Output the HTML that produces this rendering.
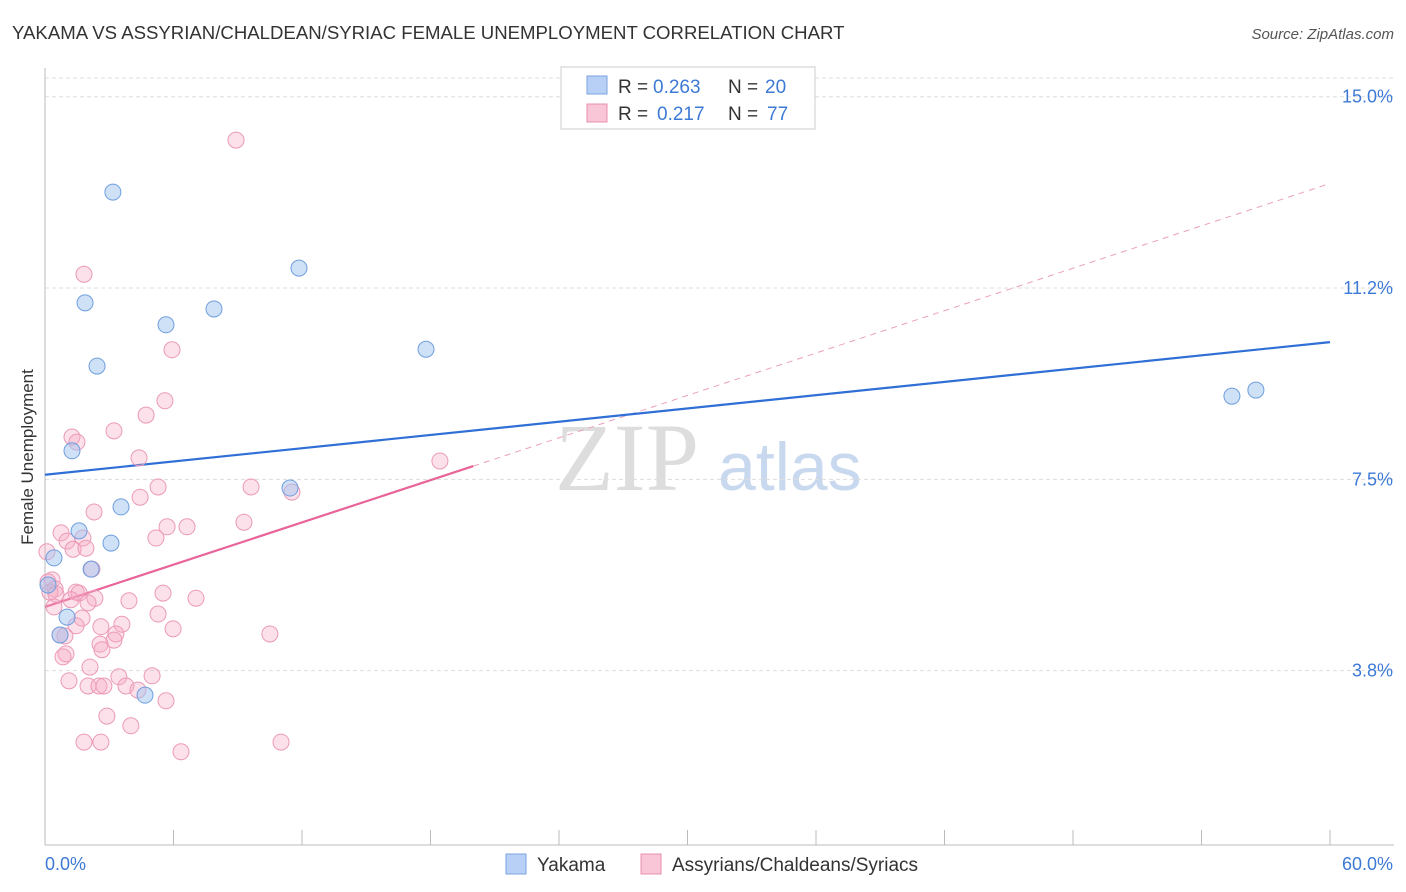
<!DOCTYPE html>
<html><head><meta charset="utf-8"><style>
body{margin:0;background:#fff;font-family:"Liberation Sans",sans-serif;}
svg{display:block}
</style></head><body>
<svg width="1406" height="892" id="chart">
<text x="12" y="39" font-size="18.6" fill="#333">YAKAMA VS ASSYRIAN/CHALDEAN/SYRIAC FEMALE UNEMPLOYMENT CORRELATION CHART</text>
<text x="1394" y="39" font-size="15" fill="#555" font-style="italic" text-anchor="end">Source: ZipAtlas.com</text>
<text x="33" y="457" font-size="17" fill="#333" text-anchor="middle" transform="rotate(-90 33 457)">Female Unemployment</text>
<text x="555" y="490" font-size="96" fill="#ddd" font-family="Liberation Serif">ZIP</text>
<text x="718" y="490" font-size="68" fill="#c8d8ef">atlas</text>
<g id="grid"></g><g id="axes"></g><g id="lines"></g><g id="pts"></g>
<g>
<rect x="561" y="67" width="254" height="62" fill="#fff" stroke="#ccc"/>
<rect x="587" y="76" width="20" height="18" fill="#b8d0f5" stroke="#7aa3e0"/>
<text x="618" y="93" font-size="19" fill="#333">R =</text>
<text x="653" y="93" font-size="19" fill="#3d7ad6">0.263</text>
<text x="728" y="93" font-size="19" fill="#333">N =</text>
<text x="765" y="93" font-size="19" fill="#3d7ad6">20</text>
<rect x="587" y="104" width="20" height="18" fill="#f8c6d6" stroke="#e890b0"/>
<text x="618" y="120" font-size="19" fill="#333">R =</text>
<text x="657" y="120" font-size="19" fill="#3d7ad6">0.217</text>
<text x="728" y="120" font-size="19" fill="#333">N =</text>
<text x="767" y="120" font-size="19" fill="#3d7ad6">77</text>
</g>
<g>
<rect x="506" y="854" width="20" height="20" fill="#b8d0f5" stroke="#7aa3e0"/>
<text x="537" y="871" font-size="19" fill="#333">Yakama</text>
<rect x="641" y="854" width="20" height="20" fill="#f8c6d6" stroke="#e890b0"/>
<text x="672" y="871" font-size="19" fill="#333">Assyrians/Chaldeans/Syriacs</text>
</g>
</svg>
<script>
const yTicks=[15.0,11.25,7.5,3.75];
const yTickLabels=["15.0%","11.2%","7.5%","3.8%"];
const xTickLabels=["0.0%","60.0%"];
const blueX=[3.17,1.87,2.43,5.65,7.89,11.86,17.79,1.26,3.55,1.59,3.08,0.42,2.15,1.03,0.70,4.67,11.44,55.42,56.54,0.14];
const blueY=[13.13,10.96,9.72,10.53,10.84,11.64,10.05,8.06,6.96,6.49,6.25,5.96,5.74,4.80,4.45,3.27,7.33,9.13,9.25,5.43];
const pinkX=[8.92,1.82,5.93,5.60,4.72,3.22,1.26,1.49,4.39,18.44,5.28,9.62,11.53,4.44,2.29,9.29,5.70,6.63,0.75,5.18,1.03,1.77,1.31,1.91,0.09,2.19,0.33,0.14,0.47,0.23,0.51,1.45,1.59,5.51,7.05,2.33,3.92,1.21,2.01,0.42,5.28,1.73,1.45,3.59,2.61,5.98,3.31,10.50,0.70,0.93,3.22,2.57,2.66,0.98,0.84,2.10,3.45,5.00,1.12,2.01,2.52,2.75,3.78,4.34,5.65,2.89,4.01,1.82,2.61,11.02,6.35];
const pinkY=[14.15,11.52,10.04,9.04,8.76,8.45,8.33,8.23,7.92,7.86,7.35,7.35,7.25,7.15,6.86,6.66,6.57,6.57,6.45,6.35,6.29,6.35,6.13,6.15,6.08,5.74,5.53,5.49,5.35,5.29,5.25,5.29,5.27,5.27,5.17,5.17,5.12,5.14,5.08,5.00,4.86,4.78,4.63,4.66,4.61,4.57,4.47,4.47,4.45,4.43,4.35,4.27,4.16,4.08,4.02,3.82,3.63,3.65,3.55,3.45,3.45,3.45,3.45,3.37,3.16,2.86,2.67,2.35,2.35,2.35,2.16];
const blueFit=[7.59,10.19];
const pinkFit=[5.0,7.76,13.3];
const NS="http://www.w3.org/2000/svg";
const X=v=>45+v*(1285/60), Y=v=>862-v*51.02;
function mk(t,a,p){const e=document.createElementNS(NS,t);for(const k in a)e.setAttribute(k,a[k]);p.appendChild(e);return e;}
const grid=document.getElementById('grid'),axes=document.getElementById('axes'),lines=document.getElementById('lines'),pts=document.getElementById('pts');
const topGrid=mk('line',{x1:45,x2:1394,y1:78,y2:78,stroke:'#ddd','stroke-dasharray':'4,3'},grid);


yTicks.forEach((t,i)=>{
 const g=mk('line',{x1:45,x2:1394,y1:Y(t),y2:Y(t),stroke:'#ddd','stroke-dasharray':'4,3'},grid);
 
 
 const l=mk('text',{x:1393,y:Y(t)+6,'font-size':18,fill:'#3d7ad6','text-anchor':'end'},grid);
 l.textContent=yTickLabels[i];
 
 
});
const ya=mk('line',{x1:45,x2:45,y1:68,y2:845,stroke:'#bbb'},axes);


const xa=mk('line',{x1:45,x2:1394,y1:845,y2:845,stroke:'#bbb'},axes);


for(let i=0;i<=10;i++){const tk=mk('line',{x1:X(i*6),x2:X(i*6),y1:830,y2:845,stroke:'#bbb'},axes);
 
 }
const xl0=mk('text',{x:45,y:870,'font-size':18,fill:'#3d7ad6'},axes);xl0.textContent=xTickLabels[0];


const xl1=mk('text',{x:1393,y:870,'font-size':18,fill:'#3d7ad6','text-anchor':'end'},axes);xl1.textContent=xTickLabels[1];


const pd=mk('line',{x1:X(20),y1:Y(pinkFit[1]),x2:X(60),y2:Y(pinkFit[2]),stroke:'#eba0ba','stroke-dasharray':'6,5','stroke-width':1},lines);


pinkX.forEach((x,i)=>{const c=mk('circle',{cx:X(x),cy:Y(pinkY[i]),r:8,fill:'rgba(246,170,196,0.35)',stroke:'#eb9ab8','stroke-width':1},pts);
 
 });
blueX.forEach((x,i)=>{const c=mk('circle',{cx:X(x),cy:Y(blueY[i]),r:8,fill:'rgba(160,195,240,0.5)',stroke:'#6f9fde','stroke-width':1},pts);
 
 });
const bl=mk('line',{x1:X(0),y1:Y(blueFit[0]),x2:X(60),y2:Y(blueFit[1]),stroke:'#2f6fd6','stroke-width':2.2},lines);


const pl=mk('line',{x1:X(0),y1:Y(pinkFit[0]),x2:X(20),y2:Y(pinkFit[1]),stroke:'#e8649a','stroke-width':2.2},lines);


</script>
</body></html>
